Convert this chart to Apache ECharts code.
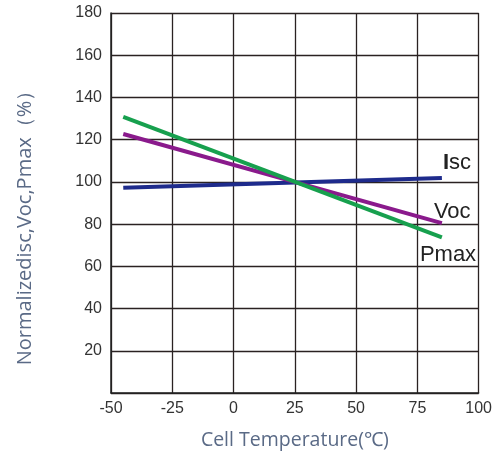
<!DOCTYPE html>
<html>
<head>
<meta charset="utf-8">
<script src="https://cdn.jsdelivr.net/npm/echarts@6/dist/echarts.min.js"></script>
<style>html,body{margin:0;padding:0;background:#fff;}#c{width:495px;height:459px;}</style>
</head>
<body>
<div id="c"></div>
<script>
const temps = [-45, 85];
const isc = [97.2, 101.9];
const voc = [122.7, 80.5];
const pmax = [130.8, 73.7];
const xTicks = [-50, -25, 0, 25, 50, 75, 100];
const yTicks = [20, 40, 60, 80, 100, 120, 140, 160, 180];

const pairs = (ys) => temps.map((t, i) => [t, ys[i]]);
const chart = echarts.init(document.getElementById('c'));
const lblFont = 'Liberation Sans, Arial, sans-serif';
const lblStyle = {fontFamily: lblFont, fontSize: 22, color: '#222'};
chart.setOption({
  animation: false,
  grid: {left: 111, top: 13, right: 13, bottom: 66},
  xAxis: {
    type: 'value', min: -50, max: 100, interval: 25,
    name: 'Cell Temperature(℃)', nameLocation: 'middle', nameGap: 37,
    nameTextStyle: {fontFamily: 'Open Sans, sans-serif', fontSize: 19.5, color: '#5a6a86'},
    axisLine: {lineStyle: {color: '#222', width: 1.5}},
    axisTick: {show: false},
    splitLine: {lineStyle: {color: '#2a2222', width: 1.3}},
    axisLabel: {fontFamily: lblFont, fontSize: 16, color: '#333', margin: 8,
      formatter: v => xTicks.includes(v) ? String(v) : ''}
  },
  yAxis: {
    type: 'value', min: 0, max: 180, interval: 20,
    name: 'Normalizedisc,Voc,Pmax（%）', nameLocation: 'middle', nameGap: 76,
    nameTextStyle: {fontFamily: 'Open Sans, sans-serif', fontSize: 20, color: '#5a6a86', padding: [0, 40, 0, 0]},
    axisLine: {show: true, onZero: false, lineStyle: {color: '#222', width: 1.5}},
    axisTick: {show: false},
    splitLine: {lineStyle: {color: '#2a2222', width: 1.3}},
    axisLabel: {fontFamily: lblFont, fontSize: 16, color: '#333', margin: 9,
      formatter: v => yTicks.includes(v) ? String(v) : ''}
  },
  series: [
    {type: 'line', data: pairs(isc), symbol: 'none', lineStyle: {color: '#1e2b8c', width: 4},
     endLabel: {show: true, formatter: '{b|I}sc', offset: [-7, -15], ...lblStyle,
       rich: {b: {fontWeight: 'bold', fontSize: 22, fontFamily: lblFont, color: '#222'}}}},
    {type: 'line', data: pairs(voc), symbol: 'none', lineStyle: {color: '#8a1a8c', width: 4},
     endLabel: {show: true, formatter: 'Voc', offset: [-16, -11.5], ...lblStyle}},
    {type: 'line', data: pairs(pmax), symbol: 'none', lineStyle: {color: '#17a04e', width: 4},
     endLabel: {show: true, formatter: 'Pmax', offset: [-30, 18], ...lblStyle}}
  ]
});
</script>
</body>
</html>
